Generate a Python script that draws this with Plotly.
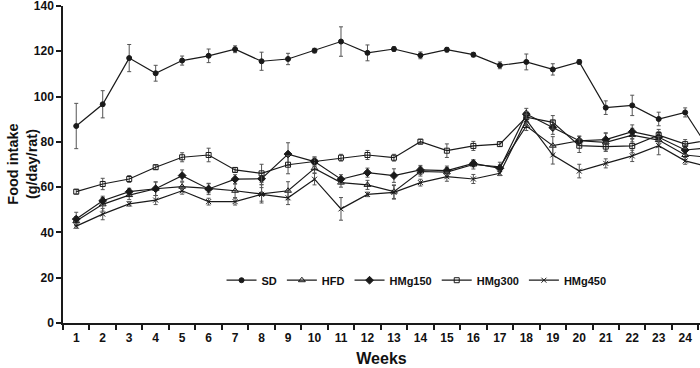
import plotly.graph_objects as go

weeks = list(range(1, 26))
week_labels = [str(w) for w in range(1, 25)]

sd = [87, 96.6, 117, 110.3, 115.9, 118, 120.9, 115.6, 116.6, 120.3, 124.3, 119.3,
      121, 118.2, 120.7, 118.5, 113.8, 115.3, 112, 115.3, 95.1, 96.1, 90.1, 93, 75]
sd_err = [10, 6, 6, 3.5, 2, 3, 1.5, 4, 2.5, 1, 6.5, 3.5, 1, 1.5, 1, 1, 1.5, 3.5, 2.5, 1,
          3, 4.5, 3, 2, 2]

hfd = [45, 52.4, 56.5, 59.3, 60.2, 59.5, 58.4, 57, 58.4, 68.3, 62, 61, 58, 66.9, 66.6,
       70, 69, 87, 78.3, 80.5, 79.8, 83, 80.8, 74.2, 73]
hfd_err = [2, 3, 2, 3, 2, 2, 3, 4, 4, 2, 2, 2, 3, 2, 2, 2, 2, 2, 4, 2, 4, 3, 3, 2, 2]

hmg150 = [45.9, 54, 58, 59.3, 65.1, 59.2, 63.5, 63.7, 74.6, 71.3, 63.5, 66.4, 65.1,
          67.6, 67.3, 70.5, 68.3, 92.3, 86.3, 80.5, 81, 84.5, 82, 76.4, 77.5]
hmg150_err = [3, 2, 1.5, 3, 2.5, 2.5, 2, 2.5, 5, 2, 2, 2, 3, 2, 2, 1.5, 1.5, 2.5, 3,
              2, 3, 3, 2.5, 2, 2]

hmg300 = [58, 61.4, 63.6, 68.8, 73.2, 74.2, 67.6, 66.1, 69.9, 71.3, 73, 74.2, 73,
          80.1, 76.1, 78.2, 79, 90.9, 88.6, 78.3, 77.9, 78.2, 83, 79, 81]
hmg300_err = [1, 2.5, 1.5, 1, 2, 3, 1, 4, 4, 2, 1.5, 2, 1.5, 1, 3, 2, 1, 2.5, 3, 3,
              2, 3, 2.5, 2, 2]

hmg450 = [42.8, 48.1, 52.6, 54.3, 58.4, 53.6, 53.6, 56.8, 55.3, 63.5, 50.4, 56.8, 57.7,
          62, 64.6, 63.6, 66.1, 89.7, 74.2, 67.1, 70.5, 73.8, 78.3, 71.6, 68.7]
hmg450_err = [1, 2.5, 1, 2, 1.5, 1.5, 1.5, 3, 3, 2.5, 5, 1, 3, 1.5, 2, 2, 1, 2.5, 4,
              3, 2, 2.5, 4, 1.5, 1.5]

series = [
    ("SD", sd, sd_err, "circle", 5),
    ("HFD", hfd, hfd_err, "triangle-up-open", 6),
    ("HMg150", hmg150, hmg150_err, "diamond", 6),
    ("HMg300", hmg300, hmg300_err, "square-open", 5),
    ("HMg450", hmg450, hmg450_err, "x-thin-open", 5),
]

INK = "#1a1a1a"
fig = go.Figure()
for name, vals, errs, sym, size in series:
    fig.add_trace(go.Scatter(
        x=weeks, y=vals, name=name, mode="lines+markers",
        line=dict(color=INK, width=1.2),
        marker=dict(symbol=sym, size=size, color=INK,
                    line=dict(color=INK, width=1)),
        error_y=dict(type="data", array=errs, visible=True,
                     color="#555555", thickness=1, width=2),
    ))

FONT = "Arial, 'Liberation Sans', sans-serif"
fig.update_layout(
    width=700, height=368,
    margin=dict(l=63, r=0, t=6, b=45),
    paper_bgcolor="white", plot_bgcolor="white",
    font=dict(family=FONT, size=11, color="#111111"),
    showlegend=True,
    legend=dict(orientation="h", x=0.555, y=0.135, xanchor="center", yanchor="middle",
                font=dict(family=FONT, size=11, color="#111111", weight="bold"),
                bgcolor="rgba(0,0,0,0)", itemwidth=30, tracegroupgap=0),
    xaxis=dict(
        range=[0.5, 24.56], showgrid=False, zeroline=False, automargin=False,
        showline=True, linecolor=INK, linewidth=1.5,
        tickmode="array", tickvals=list(range(1, 25)), ticktext=week_labels,
        ticks="outside", ticklen=3, tickcolor="rgba(0,0,0,0)",
        tickfont=dict(family=FONT, size=12, weight="bold"),
        ticklabeloverflow="allow",
        minor=dict(tickvals=[w + 0.5 for w in range(0, 25)], ticks="outside",
                   ticklen=5, tickwidth=1.5, tickcolor=INK),
        title=dict(text="Weeks", font=dict(family=FONT, size=16, weight="bold"),
                   standoff=9),
    ),
    yaxis=dict(
        range=[0, 140], showgrid=False, zeroline=False, automargin=False,
        showline=True, linecolor=INK, linewidth=1.5,
        tickmode="linear", tick0=0, dtick=20,
        ticks="outside", ticklen=5, tickwidth=1.5, tickcolor=INK,
        tickfont=dict(family=FONT, size=12, weight="bold"),
        ticklabeloverflow="allow",
    ),
    annotations=[dict(
        text="<b>Food intake<br>(g/day/rat)</b>", textangle=-90,
        xref="paper", yref="paper", x=-0.064, y=0.5,
        xanchor="center", yanchor="middle", showarrow=False,
        font=dict(family=FONT, size=14.5, color="#111111"),
    )],
)

fig.write_html("out.html", config={"displayModeBar": False},
               post_script="document.body.style.margin='0';document.body.style.overflow='hidden';")
